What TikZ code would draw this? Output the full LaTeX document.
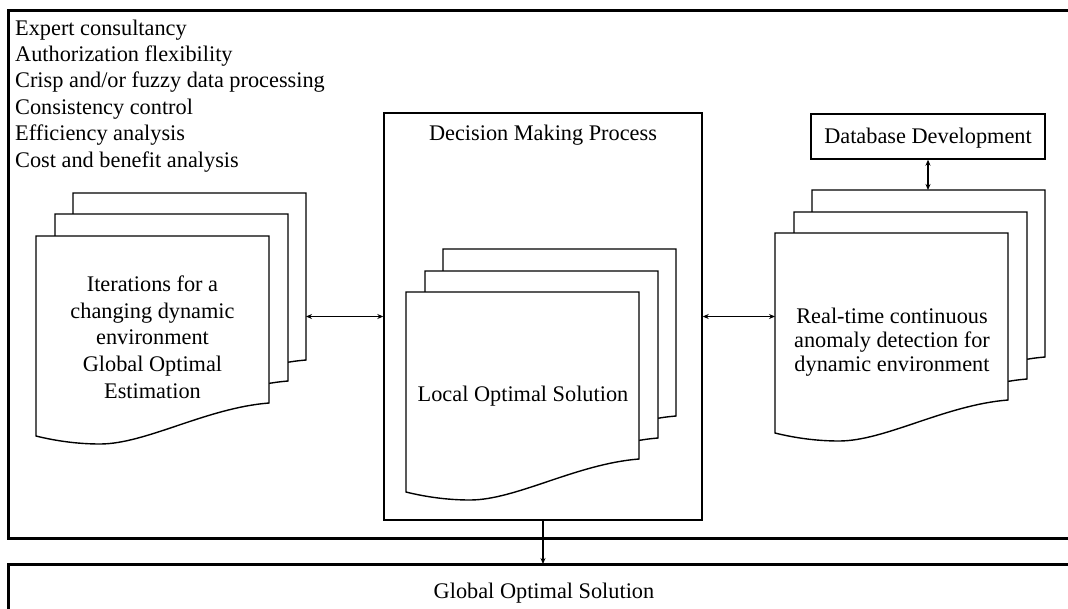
\documentclass[tikz,border=0pt]{standalone}
\usepackage{fontspec}
\setmainfont{Liberation Serif}
\usetikzlibrary{arrows, arrows.meta}

\tikzset{
  docpage/.pic={
    \draw[line width=1.4pt, fill=white] (0,0) -- (233,0) -- (233,167)
      .. controls (170,172) and (110,208) .. (64,208)
      .. controls (42,208) and (20,205) .. (0,200) -- cycle;
    \coordinate (-nw) at (0,0);
    \coordinate (-ne) at (233,0);
  },
  outer/.style={line width=3pt},
  box/.style={draw, line width=1.4pt, inner sep=0pt},
  arr/.style={line width=1.3pt, {Stealth[length=6pt,width=5pt]}-{Stealth[length=6pt,width=5pt]}}
}

\begin{document}
\begin{tikzpicture}[x=1pt, y=-1pt, font=\fontsize{22.3}{26.7}\selectfont]
\useasboundingbox (0,0) rectangle (1068,608);
\clip (0,0) rectangle (1068,608);

% outer frames, open to the right
\draw[outer] (1075,10) -- (8,10) -- (8,538) -- (1075,538);
\draw[outer] (1075,564) -- (8,564) -- (8,615);
\coordinate (gosbox) at (543,564);

% features
\foreach \t [count=\i] in {Expert consultancy, Authorization flexibility, Crisp and/or fuzzy data processing, Consistency control, Efficiency analysis, Cost and benefit analysis}
  \node[anchor=base west, inner sep=0pt] (item\i) at (15,35+26.4*\i-26.4) {\t};

% left stack
\pic (lback) at (73,193) {docpage};
\pic (lmid) at (55,214) {docpage};
\pic (lfront) at (36,236) {docpage};
\node[align=center, inner sep=0pt] (iter) at (152.5,337) {Iterations for a\\changing dynamic\\environment\\Global Optimal\\Estimation};

% decision making
\node[box, minimum width=318pt, minimum height=407pt] (dmp) at (543,316.5) {};
\node (dmptitle) at (543,135) {Decision Making Process};
\pic (cback) at (443,249) {docpage};
\pic (cmid) at (425,271) {docpage};
\pic (cfront) at (406,292) {docpage};
\node (local) at (523,396) {Local Optimal Solution};

% right stack
\node[box, minimum width=234pt, minimum height=45pt] (db) at (928,136.5) {};
\node (dbtext) at (928,138.5) {Database Development};
\pic (rback) at (812,190) {docpage};
\pic (rmid) at (794,212) {docpage};
\pic (rfront) at (775,233) {docpage};
\node[align=center, inner sep=0pt, font=\fontsize{22.3}{24}\selectfont] (anomaly) at (892,342) {Real-time continuous\\anomaly detection for\\dynamic environment};

\draw[arr] (dmp.west -| lback-ne) -- (dmp.west);
\draw[arr] (dmp.east) -- (dmp.east -| rfront-nw);
\draw[arr] (db.south) -- (db.south |- rback-ne);
\draw[line width=1.3pt, -{Stealth[length=6pt,width=5pt]}] (dmp.south) -- (dmp.south |- gosbox);

\node (gos) at (544,593) {Global Optimal Solution};
\end{tikzpicture}
\end{document}
